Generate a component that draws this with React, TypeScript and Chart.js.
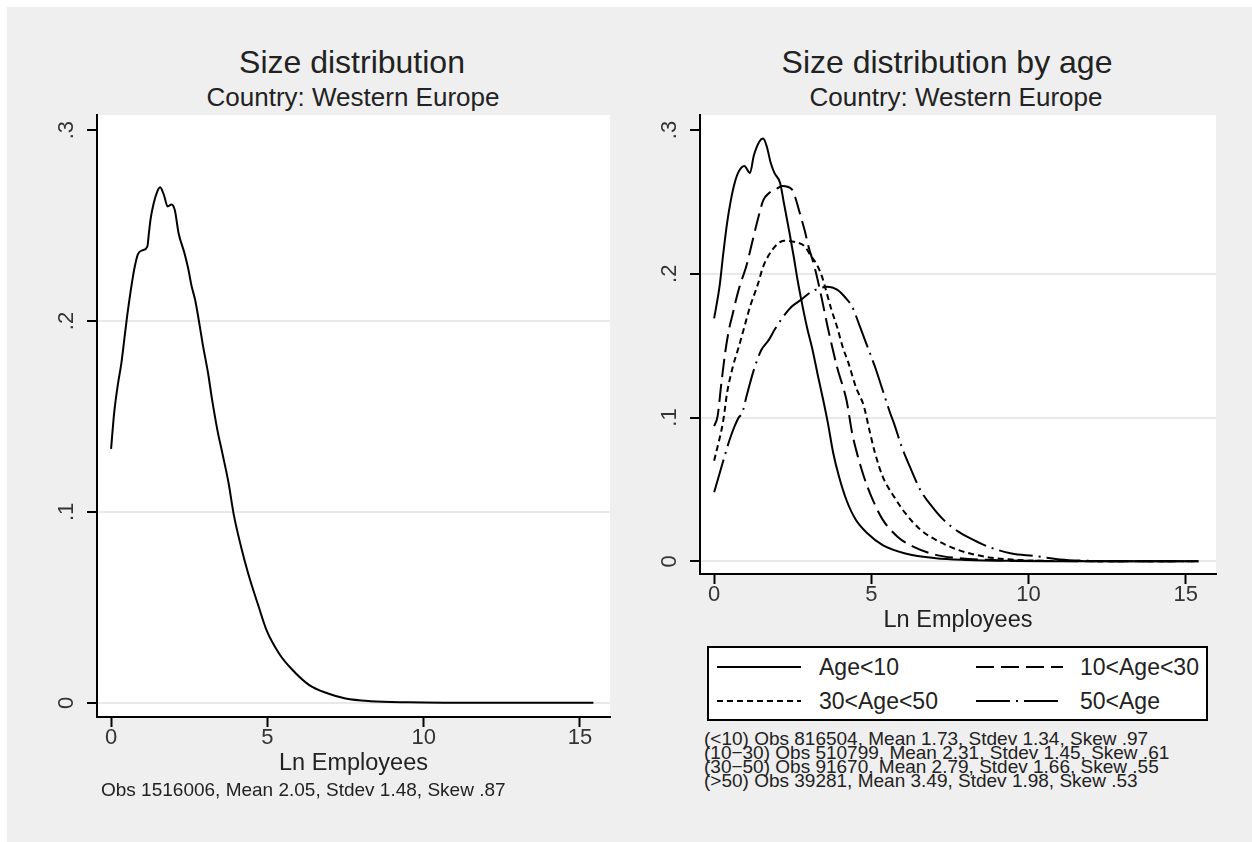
import React, { useEffect, useRef } from "react";
import { Chart, registerables } from "chart.js";

Chart.register(...registerables);

// ---------------- Data ----------------
// Left panel: all firms, kernel density of Ln Employees
const allX = [0, 0.1, 0.22, 0.33, 0.45, 0.51, 0.63, 0.74, 0.86, 1.0, 1.16, 1.21, 1.27, 1.34, 1.46, 1.57, 1.69, 1.81, 1.93, 2.04, 2.16, 2.34, 2.46, 2.58, 2.69, 2.81, 2.93, 3.11, 3.22, 3.4, 3.57, 3.76, 3.92, 4.17, 4.4, 4.7, 4.99, 5.4, 5.76, 6.34, 6.94, 7.5, 8.3, 9.5, 11, 13, 15.43];
const allY = [0.133, 0.152, 0.167, 0.178, 0.194, 0.202, 0.216, 0.227, 0.235, 0.237, 0.239, 0.246, 0.254, 0.26, 0.267, 0.27, 0.266, 0.26, 0.261, 0.258, 0.246, 0.236, 0.228, 0.218, 0.211, 0.2, 0.188, 0.172, 0.16, 0.143, 0.13, 0.115, 0.099, 0.081, 0.067, 0.0515, 0.0374, 0.0252, 0.018, 0.0093, 0.0049, 0.0023, 0.0009, 0.0003, 0.0001, 0, 0];

// Right panel: by age class
const age10X = [0, 0.17, 0.29, 0.41, 0.53, 0.65, 0.78, 0.96, 1.14, 1.26, 1.44, 1.56, 1.68, 1.8, 1.92, 2.1, 2.22, 2.4, 2.53, 2.65, 2.77, 2.95, 3.13, 3.31, 3.49, 3.61, 3.79, 3.97, 4.21, 4.51, 4.88, 5.36, 6.08, 7.05, 8.0, 9.46, 11, 13, 15.1];
const age10Y = [0.169, 0.191, 0.214, 0.235, 0.251, 0.263, 0.271, 0.275, 0.27, 0.282, 0.292, 0.294, 0.288, 0.277, 0.27, 0.263, 0.249, 0.228, 0.212, 0.196, 0.182, 0.163, 0.147, 0.128, 0.11, 0.097, 0.075, 0.059, 0.0425, 0.0287, 0.0194, 0.0113, 0.0055, 0.0022, 0.001, 0.0003, 0.0001, 0, 0];

const age30X = [0, 0.11, 0.23, 0.35, 0.47, 0.59, 0.72, 0.835, 1.02, 1.2, 1.38, 1.56, 1.74, 1.98, 2.16, 2.46, 2.58, 2.7, 2.88, 3.0, 3.19, 3.43, 3.61, 3.91, 4.21, 4.39, 4.57, 4.76, 5.0, 5.36, 5.84, 6.33, 7.05, 7.78, 9.0, 10.5, 12, 15.4];
const age30Y = [0.094, 0.101, 0.124, 0.145, 0.161, 0.172, 0.184, 0.193, 0.205, 0.221, 0.237, 0.251, 0.256, 0.259, 0.261, 0.259, 0.253, 0.244, 0.23, 0.219, 0.205, 0.182, 0.163, 0.135, 0.112, 0.089, 0.073, 0.059, 0.045, 0.029, 0.017, 0.0102, 0.0045, 0.0022, 0.0008, 0.0003, 0.0001, 0];

const age50X = [0, 0.29, 0.41, 0.59, 0.78, 0.96, 1.14, 1.38, 1.56, 1.74, 1.98, 2.22, 2.58, 2.88, 3.06, 3.25, 3.43, 3.55, 3.73, 3.91, 4.09, 4.27, 4.51, 4.76, 4.94, 5.12, 5.36, 5.72, 6.08, 6.56, 7.05, 7.78, 8.62, 9.46, 10.19, 11.5, 13, 15.4];
const age50Y = [0.07, 0.098, 0.117, 0.135, 0.149, 0.163, 0.177, 0.192, 0.205, 0.213, 0.22, 0.223, 0.222, 0.219, 0.213, 0.207, 0.198, 0.189, 0.175, 0.163, 0.149, 0.138, 0.121, 0.108, 0.091, 0.075, 0.059, 0.045, 0.0335, 0.022, 0.015, 0.0078, 0.0032, 0.0013, 0.0005, 0.0002, 0.0001, 0];

const ageOldX = [0, 0.29, 0.53, 0.78, 0.89, 1.02, 1.26, 1.5, 1.74, 1.92, 2.16, 2.46, 2.77, 3.06, 3.36, 3.61, 3.91, 4.15, 4.39, 4.64, 4.88, 5.12, 5.36, 5.6, 5.72, 5.96, 6.27, 6.56, 6.93, 7.29, 7.78, 8.26, 8.74, 9.46, 10.19, 11.0, 11.8, 13.0, 15.4];
const ageOldY = [0.048, 0.07, 0.087, 0.1, 0.103, 0.114, 0.133, 0.147, 0.154, 0.161, 0.169, 0.177, 0.182, 0.187, 0.19, 0.191, 0.189, 0.184, 0.177, 0.163, 0.149, 0.135, 0.119, 0.103, 0.096, 0.08, 0.0635, 0.0495, 0.038, 0.029, 0.0205, 0.0148, 0.01, 0.0055, 0.0037, 0.0013, 0.0004, 0.0001, 0];

const seriesLabels = ["Age<10", "10<Age<30", "30<Age<50", "50<Age"];

const xTickValues = [0, 5, 10, 15];
const xTickLabels = ["0", "5", "10", "15"];
const yTickValues = [0, 0.1, 0.2, 0.3];
const yTickLabels = ["0", ".1", ".2", ".3"];

const leftTitle = "Size distribution";
const rightTitle = "Size distribution by age";
const subtitleText = "Country: Western Europe";
const xTitleText = "Ln Employees";
const leftNote = "Obs 1516006, Mean 2.05, Stdev 1.48, Skew .87";
const rightNotes = [
  "(<10) Obs 816504, Mean 1.73, Stdev 1.34, Skew .97",
  "(10\u221230) Obs 510799, Mean 2.31, Stdev 1.45, Skew .61",
  "(30\u221250) Obs 91670, Mean 2.79, Stdev 1.66, Skew .55",
  "(>50) Obs 39281, Mean 3.49, Stdev 1.98, Skew .53",
];

// ---------------- Styles ----------------
const FONT = '"Liberation Sans", Arial, Helvetica, sans-serif';
const dashStyles: number[][] = [[], [18, 7], [6, 4], [34, 6, 2, 6]];
const TEXT = "#222";
const GRID = "#e9e9e9";
const TICK_FONT = 22;
const AXIS_TITLE_FONT = 23.5;

const pts = (xs: number[], ys: number[]) => xs.map((x, i) => ({ x, y: ys[i] }));

const whiteArea = {
  id: "whiteArea",
  beforeDraw(chart: any) {
    const { ctx, chartArea: a } = chart;
    ctx.save();
    ctx.fillStyle = "#fff";
    ctx.fillRect(a.left, a.top, a.right - a.left, a.bottom - a.top);
    ctx.restore();
  },
};

const yLabels = {
  id: "yLabels",
  afterDraw(chart: any) {
    const { ctx, chartArea } = chart;
    const s = chart.scales.y;
    ctx.save();
    ctx.font = `${TICK_FONT}px ${FONT}`;
    ctx.fillStyle = "#333";
    ctx.textAlign = "center";
    ctx.textBaseline = "middle";
    s.ticks.forEach((t: any, i: number) => {
      const py = s.getPixelForValue(t.value);
      ctx.save();
      ctx.translate(chartArea.left - 30, py);
      ctx.rotate(-Math.PI / 2);
      ctx.fillText(yTickLabels[i], 0, 0);
      ctx.restore();
    });
    ctx.restore();
  },
};

type Opts = {
  yMin: number;
  yMax: number;
  padTop: number;
  padRight: number;
  yWidth: number;
  xHeight: number;
  titlePad: number;
};

function buildConfig(datasets: any[], o: Opts): any {
  return {
    type: "line",
    data: { datasets },
    options: {
      animation: false,
      responsive: false,
      maintainAspectRatio: false,
      layout: { padding: { top: o.padTop, right: o.padRight, left: 0, bottom: 0 } },
      plugins: { legend: { display: false }, tooltip: { enabled: false }, title: { display: false } },
      elements: { point: { radius: 0 } },
      scales: {
        x: {
          type: "linear",
          min: -0.45,
          max: 15.96,
          grid: { drawOnChartArea: false, drawTicks: true, tickLength: 10, tickColor: "#000", tickWidth: 2, color: "#000" },
          border: { display: true, color: "#000", width: 2 },
          ticks: {
            font: { family: FONT, size: TICK_FONT, lineHeight: 1 },
            color: "#333",
            padding: 0,
            autoSkip: false,
            maxRotation: 0,
            callback: (_v: any, i: number) => xTickLabels[i],
          },
          afterBuildTicks: (s: any) => {
            s.ticks = xTickValues.map((v) => ({ value: v }));
          },
          afterFit: (s: any) => {
            s.height = o.xHeight;
          },
          title: {
            display: true,
            text: xTitleText,
            color: TEXT,
            font: { family: FONT, size: AXIS_TITLE_FONT, lineHeight: 1 },
            padding: { top: 0, bottom: o.titlePad },
          },
        },
        y: {
          type: "linear",
          min: o.yMin,
          max: o.yMax,
          grid: {
            color: (c: any) => (c.tick && c.tick.value > 0.25 ? "rgba(0,0,0,0)" : GRID),
            lineWidth: 2,
            drawTicks: true,
            tickLength: 10,
            tickColor: "#000",
            tickWidth: 2,
          },
          border: { display: true, color: "#000", width: 2 },
          ticks: { display: false },
          afterBuildTicks: (s: any) => {
            s.ticks = yTickValues.map((v) => ({ value: v }));
          },
          afterFit: (s: any) => {
            s.width = o.yWidth;
          },
        },
      },
    },
    plugins: [whiteArea, yLabels],
  };
}

function ChartCanvas(props: { make: () => any; left: number; top: number; width: number; height: number }) {
  const ref = useRef<HTMLCanvasElement>(null);
  useEffect(() => {
    const chart = new Chart(ref.current as HTMLCanvasElement, props.make());
    return () => chart.destroy();
  }, []);
  return (
    <canvas
      ref={ref}
      width={props.width}
      height={props.height}
      style={{ position: "absolute", left: props.left, top: props.top, width: props.width, height: props.height }}
    />
  );
}

const lineDs = (label: string, xs: number[], ys: number[], dash: number[]) => ({
  label,
  data: pts(xs, ys),
  borderColor: "#000",
  borderWidth: 2,
  borderDash: dash,
  pointRadius: 0,
  fill: false,
  cubicInterpolationMode: "monotone",
});

function Text(props: { x: number; cy: number; size: number; children: any; center?: boolean }) {
  return (
    <div
      style={{
        position: "absolute",
        left: props.x,
        top: props.cy - props.size / 2,
        fontFamily: FONT,
        fontSize: props.size,
        lineHeight: `${props.size}px`,
        color: TEXT,
        whiteSpace: "pre",
        transform: props.center ? "translateX(-50%)" : undefined,
      }}
    >
      {props.children}
    </div>
  );
}

export default function App() {
  useEffect(() => {
    document.documentElement.style.overflow = "hidden";
  }, []);

  const makeLeft = () =>
    buildConfig([lineDs("All", allX, allY, [])], {
      yMin: -0.0074,
      yMax: 0.3079,
      padTop: 15,
      padRight: 10,
      yWidth: 77,
      xHeight: 83,
      titlePad: 25,
    });

  const makeRight = () =>
    buildConfig(
      [
        lineDs(seriesLabels[0], age10X, age10Y, dashStyles[0]),
        lineDs(seriesLabels[1], age30X, age30Y, dashStyles[1]),
        lineDs(seriesLabels[2], age50X, age50Y, dashStyles[2]),
        lineDs(seriesLabels[3], ageOldX, ageOldY, dashStyles[3]),
      ],
      {
        yMin: -0.0088,
        yMax: 0.3104,
        padTop: 15,
        padRight: 29,
        yWidth: 75,
        xHeight: 76,
        titlePad: 17.5,
      }
    );

  const legendLineX = [717, 976];
  const legendLineW = [84, 87];
  const legendTextX = [819, 1080];
  const legendRowY = [667, 701];

  return (
    <div style={{ position: "fixed", left: 0, top: 0, width: 1252, height: 842, background: "#fff", overflow: "hidden" }}>
      <div style={{ position: "absolute", left: 7, top: 7, width: 1245, height: 835, background: "#efefef" }} />

      {/* titles */}
      <Text x={352} cy={62} size={32} center>
        {leftTitle}
      </Text>
      <Text x={353} cy={97} size={26} center>
        {subtitleText}
      </Text>
      <Text x={947} cy={62} size={32} center>
        {rightTitle}
      </Text>
      <Text x={956} cy={97} size={26} center>
        {subtitleText}
      </Text>

      <ChartCanvas make={makeLeft} left={20} top={100} width={600} height={700} />
      <ChartCanvas make={makeRight} left={625} top={100} width={620} height={550} />

      {/* notes */}
      <Text x={101} cy={789} size={19}>
        {leftNote}
      </Text>
      <div
        style={{
          position: "absolute",
          left: 704,
          top: 732,
          fontFamily: FONT,
          fontSize: 19,
          lineHeight: "14px",
          color: TEXT,
          whiteSpace: "pre",
        }}
      >
        {rightNotes.join("\n")}
      </div>

      {/* legend */}
      <div
        style={{
          position: "absolute",
          left: 707,
          top: 646,
          width: 501,
          height: 75,
          boxSizing: "border-box",
          border: "2px solid #000",
          background: "#fff",
        }}
      />
      {seriesLabels.map((lab, i) => {
        const col = i % 2;
        const row = Math.floor(i / 2);
        const cy = legendRowY[row];
        return (
          <React.Fragment key={lab}>
            <svg
              width={legendLineW[col]}
              height={4}
              style={{ position: "absolute", left: legendLineX[col], top: cy - 2, overflow: "visible" }}
            >
              <line
                x1={0}
                y1={2}
                x2={legendLineW[col]}
                y2={2}
                stroke="#000"
                strokeWidth={2}
                strokeDasharray={dashStyles[i].length ? dashStyles[i].join(" ") : undefined}
              />
            </svg>
            <Text x={legendTextX[col]} cy={cy} size={23}>
              {lab}
            </Text>
          </React.Fragment>
        );
      })}
    </div>
  );
}
